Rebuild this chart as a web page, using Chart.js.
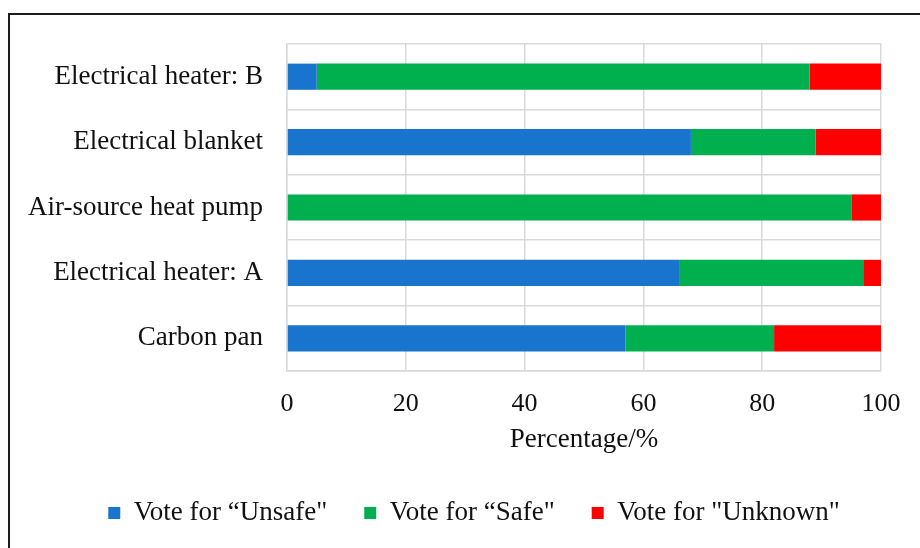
<!DOCTYPE html>
<html>
<head>
<meta charset="utf-8">
<script src="https://cdn.jsdelivr.net/npm/chart.js@4.4.1/dist/chart.umd.min.js"></script>
<style>
  html, body { margin: 0; padding: 0; background: #fff; overflow: hidden; }
  #wrap { position: relative; width: 920px; height: 548px; }
  #frame { position: absolute; left: 8px; top: 13px; width: 1000px; height: 1000px;
           border: 2px solid #1c1c1c; box-sizing: border-box; }
  canvas { position: absolute; left: 0; top: 0; }
</style>
</head>
<body>
<div id="wrap">
  <div id="frame"></div>
  <canvas id="chart" width="920" height="548"></canvas>
</div>
<script>
// Heating devices surveyed (top to bottom)
const categories = [
  "Electrical heater: B",
  "Electrical blanket",
  "Air-source heat pump",
  "Electrical heater: A",
  "Carbon pan"
];

// Share of votes per device, in percent
const unsafeVotes  = [5, 68, 0, 66, 57];
const safeVotes    = [83, 21, 95, 31, 25];
const unknownVotes = [12, 11, 5, 3, 18];

const seriesNames = ["Vote for \u201cUnsafe\"", "Vote for \u201cSafe\"", "Vote for \"Unknown\""];
const xTicks = [0, 20, 40, 60, 80, 100];

const serif = "'Liberation Serif', 'Times New Roman', serif";
const gridColor = "#d9d9d9";
const textColor = "#111111";

// Re-centre the legend row under the whole figure
const legendShift = {
  id: "legendShift",
  afterLayout(chart) {
    if (chart.legend) {
      chart.legend.left = 28;
      chart.legend.right = 920;
    }
  }
};

new Chart(document.getElementById("chart"), {
  type: "bar",
  data: {
    labels: categories,
    datasets: [
      { label: seriesNames[0], data: unsafeVotes,  backgroundColor: "#1874CD" },
      { label: seriesNames[1], data: safeVotes,    backgroundColor: "#00B04F" },
      { label: seriesNames[2], data: unknownVotes, backgroundColor: "#FF0000" }
    ]
  },
  options: {
    indexAxis: "y",
    responsive: false,
    animation: false,
    devicePixelRatio: 1,
    datasets: { bar: { categoryPercentage: 1.0, barPercentage: 0.4 } },
    layout: { padding: { top: 44, right: 39, bottom: 11.5, left: 0 } },
    scales: {
      x: {
        stacked: true,
        min: 0,
        max: 100,
        afterBuildTicks(scale) { scale.ticks = xTicks.map(v => ({ value: v })); },
        afterFit(scale) { scale.height = 91.5; },
        grid: { color: gridColor, lineWidth: 1.5, drawTicks: false },
        border: { color: gridColor, width: 1.5 },
        ticks: { color: textColor, padding: 18, font: { family: serif, size: 26 } },
        title: {
          display: true,
          text: "Percentage/%",
          color: textColor,
          padding: { top: 0, bottom: 6 },
          font: { family: serif, size: 27 }
        }
      },
      y: {
        stacked: true,
        afterFit(scale) { scale.width = 287; },
        grid: { color: gridColor, lineWidth: 1.5, drawTicks: false, offset: true },
        border: { color: gridColor, width: 1.5 },
        ticks: { color: textColor, padding: 24, font: { family: serif, size: 27 } }
      }
    },
    plugins: {
      legend: {
        position: "bottom",
        labels: {
          boxWidth: 12,
          boxHeight: 12,
          padding: 37,
          color: textColor,
          font: { family: serif, size: 27 }
        }
      },
      tooltip: { enabled: false }
    }
  },
  plugins: [legendShift]
});
</script>
</body>
</html>
